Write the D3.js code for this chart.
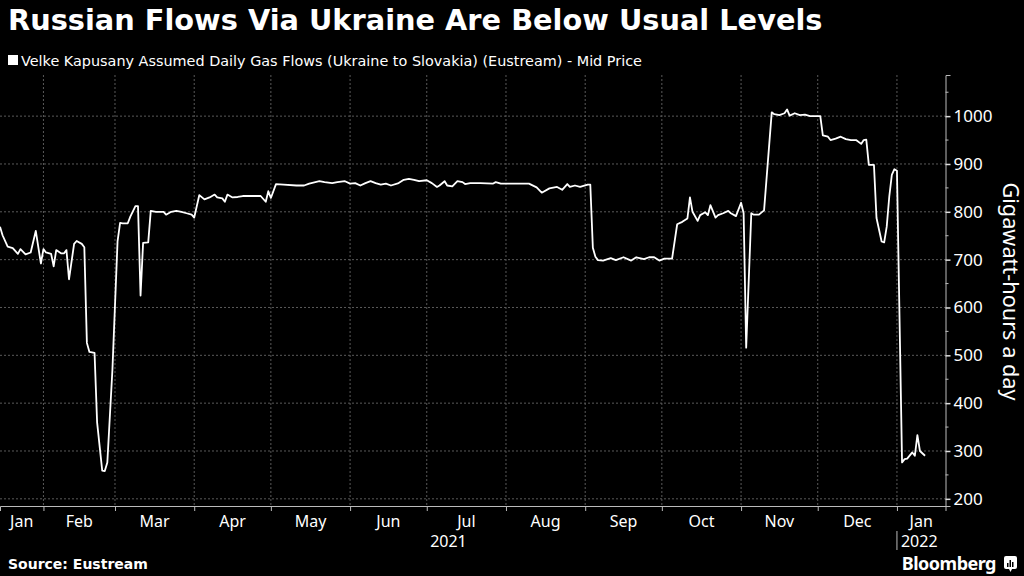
<!DOCTYPE html>
<html>
<head>
<meta charset="utf-8">
<title>Russian Flows Via Ukraine Are Below Usual Levels</title>
<script src="https://d3js.org/d3.v7.min.js"></script>
<style>
    body { margin: 0; background: #000; }
    svg text { fill: #fff; font-family: "Noto Sans", "DejaVu Sans", sans-serif; }
</style>
</head>
<body>
<div id="chart"></div>
<script>
// Velke Kapusany daily flows (GWh/day)
const flowDates = [
    "2021-01-15","2021-01-16","2021-01-18","2021-01-20","2021-01-22","2021-01-23","2021-01-25","2021-01-27","2021-01-29","2021-01-31",
    "2021-02-01","2021-02-02","2021-02-04","2021-02-05","2021-02-06","2021-02-08","2021-02-09","2021-02-10","2021-02-11","2021-02-13",
    "2021-02-14","2021-02-16","2021-02-17","2021-02-18","2021-02-19","2021-02-21","2021-02-22","2021-02-24","2021-02-25","2021-02-26",
    "2021-02-28","2021-03-02","2021-03-03","2021-03-04","2021-03-06","2021-03-07","2021-03-09","2021-03-10","2021-03-11","2021-03-12",
    "2021-03-14","2021-03-15","2021-03-17","2021-03-20","2021-03-21","2021-03-23","2021-03-25","2021-03-27","2021-03-29","2021-03-31",
    "2021-04-01","2021-04-03","2021-04-05","2021-04-07","2021-04-09","2021-04-10","2021-04-12","2021-04-13","2021-04-14","2021-04-16",
    "2021-04-18","2021-04-20","2021-04-23","2021-04-27","2021-04-29","2021-04-30","2021-05-01","2021-05-03","2021-05-06","2021-05-11",
    "2021-05-14","2021-05-16","2021-05-20","2021-05-22","2021-05-25","2021-05-27","2021-05-30","2021-06-01","2021-06-03","2021-06-05",
    "2021-06-07","2021-06-09","2021-06-11","2021-06-13","2021-06-15","2021-06-17","2021-06-20","2021-06-22","2021-06-24","2021-06-26",
    "2021-06-28","2021-07-01","2021-07-03","2021-07-05","2021-07-06","2021-07-08","2021-07-09","2021-07-11","2021-07-13","2021-07-15",
    "2021-07-16","2021-07-18","2021-07-22","2021-07-27","2021-07-28","2021-07-30","2021-08-05","2021-08-10","2021-08-13","2021-08-15",
    "2021-08-18","2021-08-21","2021-08-23","2021-08-25","2021-08-26","2021-08-28","2021-08-30","2021-09-02","2021-09-03","2021-09-04",
    "2021-09-05","2021-09-06","2021-09-08","2021-09-11","2021-09-13","2021-09-16","2021-09-19","2021-09-21","2021-09-24","2021-09-26",
    "2021-09-28","2021-09-30","2021-10-02","2021-10-05","2021-10-07","2021-10-09","2021-10-11","2021-10-12","2021-10-13","2021-10-15",
    "2021-10-16","2021-10-18","2021-10-19","2021-10-20","2021-10-22","2021-10-23","2021-10-25","2021-10-27","2021-10-28","2021-10-30",
    "2021-11-01","2021-11-02","2021-11-03","2021-11-05","2021-11-06","2021-11-08","2021-11-10","2021-11-13","2021-11-14","2021-11-16",
    "2021-11-18","2021-11-19","2021-11-20","2021-11-22","2021-11-24","2021-11-26","2021-11-28","2021-12-02","2021-12-03","2021-12-05",
    "2021-12-06","2021-12-08","2021-12-10","2021-12-12","2021-12-14","2021-12-16","2021-12-18","2021-12-19","2021-12-20","2021-12-21",
    "2021-12-23","2021-12-24","2021-12-26","2021-12-27","2021-12-28","2021-12-29","2021-12-30","2021-12-31","2022-01-01","2022-01-03",
    "2022-01-04","2022-01-05","2022-01-07","2022-01-08","2022-01-09","2022-01-10","2022-01-12"
];
const flowValues = [
    769, 751, 727, 724, 712, 722, 711, 715, 760, 692,
    722, 715, 712, 686, 720, 713, 713, 720, 659, 733,
    739, 733, 726, 526, 507, 505, 360, 259, 258, 276,
    471, 738, 777, 776, 776, 790, 812, 812, 625, 735,
    736, 802, 800, 800, 794, 800, 802, 800, 797, 794,
    788, 835, 826, 830, 836, 830, 828, 821, 836, 830,
    831, 833, 833, 833, 821, 843, 829, 858, 857, 855,
    855, 859, 864, 862, 860, 862, 864, 859, 860, 855,
    860, 864, 860, 857, 859, 855, 860, 867, 869, 867,
    864, 866, 860, 852, 855, 864, 855, 853, 864, 862,
    858, 860, 860, 859, 862, 859, 859, 859, 851, 840,
    849, 852, 846, 858, 852, 855, 852, 857, 857, 725,
    706, 699, 698, 703, 699, 705, 698, 705, 701, 705,
    705, 698, 702, 702, 774, 779, 786, 830, 800, 781,
    793, 799, 793, 814, 788, 793, 797, 802, 797, 791,
    819, 797, 516, 797, 794, 794, 803, 1008, 1004, 1002,
    1006, 1014, 1001, 1006, 1002, 1003, 1000, 1000, 960, 957,
    950, 953, 957, 952, 950, 950, 942, 950, 951, 898,
    898, 787, 738, 736, 769, 832, 877, 889, 886, 276,
    283, 284, 297, 290, 333, 300, 290
];
const xDomain = ["2021-01-15", "2022-01-20"];
const yDomain = [185, 1086];
const yTicks = [200, 300, 400, 500, 600, 700, 800, 900, 1000];
const yMinorTicks = [250, 350, 450, 550, 650, 750, 850, 950, 1050];

const titleText = "Russian Flows Via Ukraine Are Below Usual Levels";
const legendText = "Velke Kapusany Assumed Daily Gas Flows (Ukraine to Slovakia) (Eustream) - Mid Price";
const yAxisTitle = "Gigawatt-hours a day";
const sourceText = "Source: Eustream";

const parse = d3.timeParse("%Y-%m-%d");
const data = flowDates.map((d, i) => ({ date: parse(d), value: flowValues[i] }));

const W = 1024, H = 576;
const margin = { top: 75, right: 78.5, bottom: 70, left: 0 };
const width = W - margin.left - margin.right;
const height = H - margin.top - margin.bottom;

const svg = d3.select("#chart").append("svg")
    .attr("width", W).attr("height", H)
    .style("background", "#000");

const x = d3.scaleTime().domain(xDomain.map(parse)).range([0, width]);
const y = d3.scaleLinear().domain(yDomain).range([height, 0]);

const g = svg.append("g").attr("transform", `translate(${margin.left},${margin.top})`);

// gridlines
const monthStarts = d3.timeMonth.range(d3.timeMonth.ceil(x.domain()[0]), x.domain()[1]);
g.append("g").selectAll("line").data(yTicks).join("line")
    .attr("x1", 0).attr("x2", width)
    .attr("y1", d => y(d)).attr("y2", d => y(d))
    .attr("stroke", "#5a5a5a").attr("stroke-dasharray", "2,2");
g.append("g").selectAll("line").data(monthStarts).join("line")
    .attr("x1", d => x(d)).attr("x2", d => x(d))
    .attr("y1", 0).attr("y2", height)
    .attr("stroke", "#5a5a5a").attr("stroke-dasharray", "2,2");

// bottom axis: month ticks only, labels centred in each month
const xAxis = g.append("g").attr("transform", `translate(0,${height})`)
    .call(d3.axisBottom(x).tickValues(monthStarts).tickSize(5).tickFormat(""));
xAxis.select(".domain").attr("stroke", "#bbb");
xAxis.selectAll(".tick line").attr("stroke", "#bbb");

const months = d3.timeMonth.range(d3.timeMonth.floor(x.domain()[0]), x.domain()[1]);
g.append("g").selectAll("text").data(months).join("text")
    .attr("x", d => {
        const a = Math.max(x(d), 0);
        const b = Math.min(x(d3.timeMonth.offset(d, 1)), width);
        return (a + b) / 2;
    })
    .attr("y", height + 21)
    .attr("text-anchor", "middle")
    .style("font-size", "16px")
    .text(d3.timeFormat("%b"));

// year labels
const yearStart = d3.timeYear.ceil(x.domain()[0]);
g.append("text")
    .attr("x", x(yearStart) / 2)
    .attr("y", height + 41)
    .attr("text-anchor", "middle")
    .style("font-size", "16px")
    .text(d3.timeFormat("%Y")(x.domain()[0]));
g.append("line")
    .attr("x1", x(yearStart)).attr("x2", x(yearStart))
    .attr("y1", height + 25).attr("y2", height + 44)
    .attr("stroke", "#bbb");
g.append("text")
    .attr("x", x(yearStart) + 4)
    .attr("y", height + 41)
    .style("font-size", "16px")
    .text(d3.timeFormat("%Y")(yearStart));

// right axis
const yAxis = g.append("g").attr("transform", `translate(${width},0)`)
    .call(d3.axisRight(y).tickValues(yTicks).tickSize(5).tickPadding(3).tickFormat(d3.format("d")));
yAxis.select(".domain").attr("stroke", "#bbb");
yAxis.selectAll(".tick line").attr("stroke", "#ddd").attr("stroke-width", 1.5);
yAxis.selectAll(".tick text").style("font-size", "17px").attr("fill", "#fff")
    .style("font-family", "\"Noto Sans\", sans-serif");
yAxis.append("g").selectAll("line").data(yMinorTicks).join("line")
    .attr("x1", 0).attr("x2", 3)
    .attr("y1", d => y(d)).attr("y2", d => y(d))
    .attr("stroke", "#bbb");

g.append("text")
    .attr("transform", `translate(${width + 57},${height / 2 + 1}) rotate(90)`)
    .attr("text-anchor", "middle")
    .style("font-size", "21.7px")
    .text(yAxisTitle);

// the series
const line = d3.line().x(d => x(d.date)).y(d => y(d.value));
g.append("path").datum(data)
    .attr("fill", "none")
    .attr("stroke", "#fff")
    .attr("stroke-width", 1.8)
    .attr("stroke-linejoin", "round")
    .attr("d", line);

// title, legend, footer
svg.append("text").attr("x", 8).attr("y", 30)
    .style("font-family", "\"DejaVu Sans\", sans-serif")
    .style("font-size", "28.8px").style("font-weight", "bold")
    .text(titleText);
svg.append("rect").attr("x", 8).attr("y", 55).attr("width", 10).attr("height", 10).attr("fill", "#fff");
svg.append("text").attr("x", 21).attr("y", 65.5)
    .style("font-family", "\"DejaVu Sans\", sans-serif")
    .style("font-size", "14.4px")
    .text(legendText);
svg.append("text").attr("x", 8).attr("y", 569)
    .style("font-family", "\"DejaVu Sans\", sans-serif")
    .style("font-size", "14px").style("font-weight", "bold")
    .text(sourceText);
svg.append("text").attr("x", 996).attr("y", 570)
    .attr("text-anchor", "end")
    .style("font-size", "18px").style("font-weight", "bold")
    .style("letter-spacing", "-0.5px")
    .text("Bloomberg");
const logo = svg.append("g").attr("transform", "translate(1004,556)");
logo.append("rect").attr("width", 13).attr("height", 13).attr("rx", 2).attr("fill", "#fff");
logo.append("path").attr("d", "M5,13 L6.5,16 L8,13 Z").attr("fill", "#fff");
[[3, 7, 4], [5.5, 4, 7], [8, 6, 5]].forEach(([bx, by, bh]) =>
    logo.append("rect").attr("x", bx).attr("y", by).attr("width", 1.5).attr("height", bh).attr("fill", "#000"));
</script>
</body>
</html>
